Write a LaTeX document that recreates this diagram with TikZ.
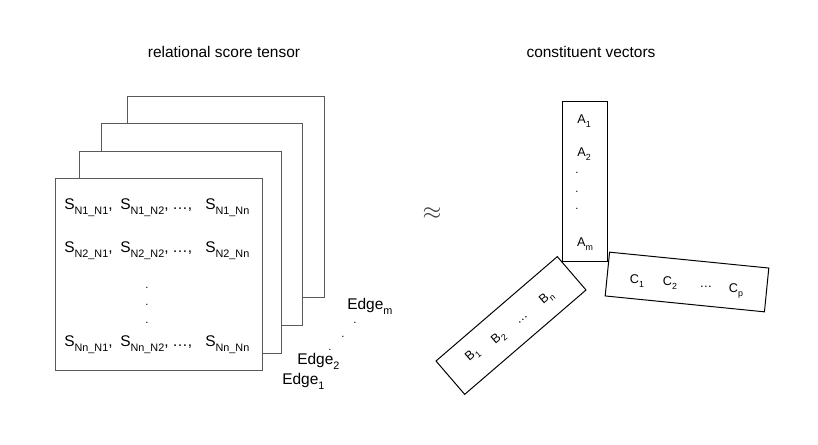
\documentclass[tikz,border=0pt]{standalone}
\usepackage{fontspec}
\setmainfont{Liberation Sans}
\usepackage{xcolor}
\usepackage{tikz}
\usetikzlibrary{positioning}
\definecolor{framegray}{RGB}{89, 89, 89}
\makeatletter
\newcommand{\lowsub}[1]{\raisebox{-0.6ex}{\fontsize{\fpeval{0.7*\f@size}}{\fpeval{0.9*\f@size}}\selectfont #1}}
\makeatother

\begin{document}
\begin{tikzpicture}[
    x=0.025cm, y=-0.025cm,
    slice/.style={rectangle, draw=framegray, fill=white, line width=0.7pt,
        inner sep=0pt, outer sep=0pt},
    vecbox/.style={rectangle, draw=black, line width=0.7pt, inner sep=0pt,
        minimum width=4cm, minimum height=1.1cm},
    heading/.style={font=\fontsize{11}{13}\selectfont, inner sep=0pt},
    entry/.style={anchor=base west, inner sep=0pt, font=\fontsize{11}{13}\selectfont},
    edgelabel/.style={anchor=base west, inner sep=0pt, font=\fontsize{11}{13}\selectfont},
    vlabel/.style={inner sep=0pt, font=\fontsize{9}{11}\selectfont},
    vdot/.style={inner sep=0pt, font=\fontsize{8}{10}\selectfont}
]
\useasboundingbox (0,0) rectangle (818,445);

\node[heading] (tensortitle) at (224,52) {relational score tensor};
\node[heading] (vectortitle) at (591,52) {constituent vectors};

\node[slice, minimum width=4.9cm, minimum height=5cm] (slice4) at (226,197) {};
\node[slice, minimum width=5cm, minimum height=5.025cm] (slice3) at (202,224.5) {};
\node[slice, minimum width=5.025cm, minimum height=5.025cm] (slice2) at (180.5,252.5) {};
\node[slice, minimum width=5.15cm, minimum height=4.775cm] (slice1) at (159,274.5) {};

\foreach \r/\y in {N1/210, N2/253, Nn/347} {
    \node[entry] (s-\r-1) at (64,\y) {S\lowsub{\r\_N1},};
    \node[entry] (s-\r-2) at (120,\y) {S\lowsub{\r\_N2},};
    \node[entry] (s-\r-d) at (172,\y) {\dots,};
    \node[entry] (s-\r-n) at (205,\y) {S\lowsub{\r\_Nn}};
}
\foreach \y [count=\i] in {288,305,323} {
    \node[vdot] (rowdot\i) at (147,\y) {.};
}

\node[edgelabel] (edgem) at (347,310) {Edge\lowsub{m}};
\node[edgelabel] (edge2) at (297,365) {Edge\lowsub{2}};
\node[edgelabel] (edge1) at (282,385) {Edge\lowsub{1}};
\foreach \x/\y [count=\i] in {355/323, 343/337, 330/350} {
    \node[vdot] (edgedot\i) at (\x,\y) {.};
}

\node[font=\fontsize{17}{20}\selectfont, text=black!75, inner sep=0pt] (approx) at (432,214) {$\approx$};

\node[vecbox, minimum width=1.125cm, minimum height=3.975cm] (avec) at (584.5,181.5) {};
\node[vecbox, rotate=40.7] (bvec) at (511,325.5) {};
\node[vecbox, rotate=-5.7] (cvec) at (687,282) {};

\node[vlabel] (a1) at (584,121) {A\lowsub{1}};
\node[vlabel] (a2) at (584,154) {A\lowsub{2}};
\foreach \y [count=\i] in {173,192,209} {
    \node[vdot] (adot\i) at (577,\y) {.};
}
\node[vlabel] (am) at (585,244) {A\lowsub{m}};

\node[vlabel, rotate=40.7] (b1) at (473,355) {B\lowsub{1}};
\node[vlabel, rotate=40.7] (b2) at (499,338) {B\lowsub{2}};
\node[vlabel, rotate=40.7] (bdots) at (523,320) {\dots};
\node[vlabel, rotate=40.7] (bn) at (547,298) {B\lowsub{n}};

\node[vlabel] (c1) at (637,281) {C\lowsub{1}};
\node[vlabel] (c2) at (670,283) {C\lowsub{2}};
\node[vlabel] (cdots) at (706,287) {\dots};
\node[vlabel] (cp) at (736,291) {C\lowsub{p}};

\end{tikzpicture}
\end{document}
